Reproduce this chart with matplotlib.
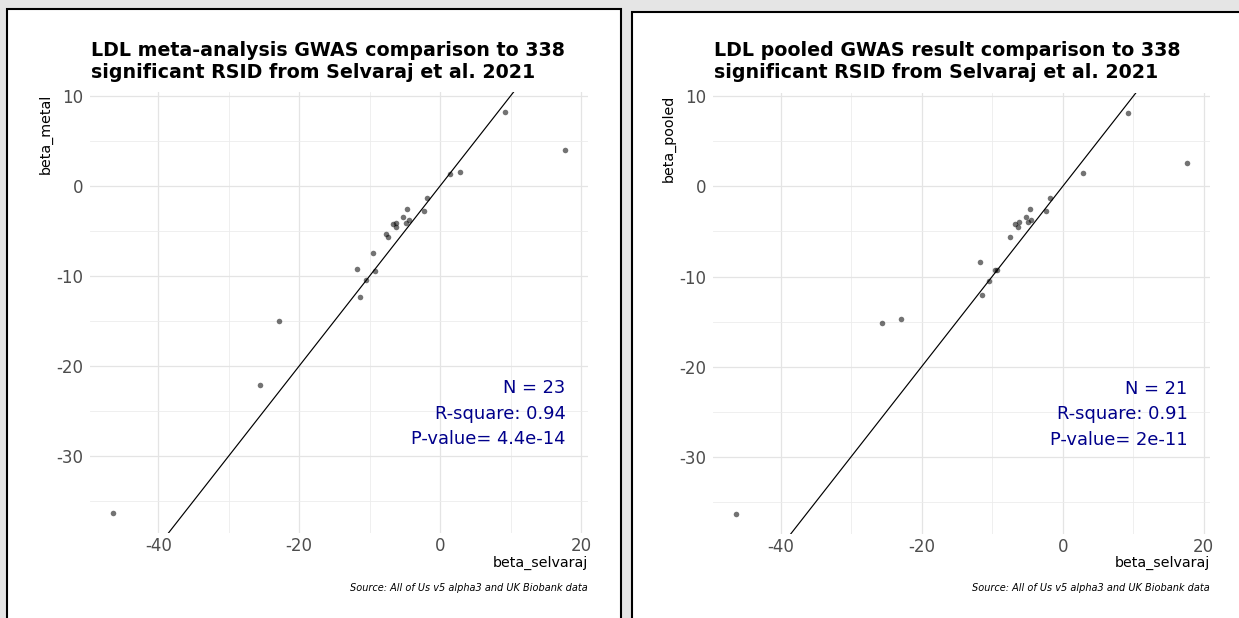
import numpy as np
import matplotlib
matplotlib.use('Agg')
import matplotlib.pyplot as plt
from matplotlib.patches import Rectangle
from matplotlib.ticker import MultipleLocator

plt.rcParams['axes.unicode_minus'] = False

########## Data ##########
beta_selvaraj_metal = [9.27 , 17.78 , 1.42 , 2.84 , -1.80 , -4.63 , -2.27 , -5.20 , -4.40 , -4.78 , -6.71 , -6.19 ,
                       -6.29 , -7.61 , -7.42 , -9.46 , -11.73 , -9.27 , -10.54 , -11.40 , -22.93 , -25.53 , -46.48]
beta_metal = [8.21 , 4.03 , 1.33 , 1.59 , -1.33 , -2.55 , -2.81 , -3.47 , -3.73 , -4.07 , -4.18 , -4.07 ,
              -4.58 , -5.36 , -5.69 , -7.47 , -9.21 , -9.43 , -10.46 , -12.30 , -15.04 , -22.07 , -36.33]

beta_selvaraj_pooled = [9.26 , 17.70 , 2.84 , -1.81 , -4.65 , -2.35 , -5.19 , -4.46 , -4.85 , -6.76 , -6.22 ,
                        -6.32 , -7.44 , -11.75 , -9.60 , -9.30 , -10.50 , -11.46 , -23.00 , -25.60 , -46.40]
beta_pooled = [8.15 , 2.60 , 1.52 , -1.33 , -2.52 , -2.78 , -3.44 , -3.70 , -4.00 , -4.15 , -4.00 ,
               -4.52 , -5.59 , -8.40 , -9.33 , -9.33 , -10.50 , -12.04 , -14.70 , -15.15 , -36.36]

title_metal = 'LDL meta-analysis GWAS comparison to 338\nsignificant RSID from Selvaraj et al. 2021'
title_pooled = 'LDL pooled GWAS result comparison to 338\nsignificant RSID from Selvaraj et al. 2021'
stats_metal = ['N = 23' , 'R-square: 0.94' , 'P-value= 4.4e-14']
stats_pooled = ['N = 21' , 'R-square: 0.91' , 'P-value= 2e-11']
x_name = 'beta_selvaraj'
caption = 'Source: All of Us v5 alpha3 and UK Biobank data'

W , H = 1239 , 618

def fx(px):
    return px / W

def fy(py):
    return 1 - py / H

def drawPanel(fig , box , plotBox , x , y , title , yName , stats):
    # panel background with black frame
    left , top , right = box
    fig.patches.append(Rectangle((fx(left) , -0.1) , fx(right) - fx(left) , fy(top) + 0.1 ,
                                 transform = fig.transFigure , facecolor = 'white' , edgecolor = 'black' ,
                                 linewidth = 1.5 , zorder = -10))

    pl , pt , pr , pb = plotBox
    ax = fig.add_axes([fx(pl) , fy(pb) , fx(pr) - fx(pl) , (pb - pt) / H])
    ax.set_zorder(1)
    ax.patch.set_alpha(0)
    x = np.array(x)
    y = np.array(y)
    xr = x.max() - x.min()
    yr = y.max() - y.min()
    ax.set_xlim(x.min() - 0.05 * xr , x.max() + 0.05 * xr)
    ax.set_ylim(y.min() - 0.05 * yr , y.max() + 0.05 * yr)

    ax.scatter(x , y , s = 16 , color = 'black' , alpha = 0.55 , linewidths = 0 , zorder = 3)
    ax.axline((0 , 0) , slope = 1 , color = 'black' , linewidth = 0.85 , zorder = 2)

    ax.xaxis.set_major_locator(MultipleLocator(20))
    ax.xaxis.set_minor_locator(MultipleLocator(10))
    ax.yaxis.set_major_locator(MultipleLocator(10))
    ax.yaxis.set_minor_locator(MultipleLocator(5))
    ax.grid(which = 'major' , color = '#e4e4e4' , linewidth = 0.9)
    ax.grid(which = 'minor' , color = '#ececec' , linewidth = 0.6)
    ax.set_axisbelow(True)
    ax.tick_params(which = 'both' , length = 0 , labelsize = 12 , labelcolor = '#4d4d4d')
    ax.tick_params(axis = 'x' , pad = 3)
    ax.tick_params(axis = 'y' , pad = 5)
    for s in ax.spines.values():
        s.set_visible(False)

    ax.text(x.max() , -25.3 , '\n'.join(stats) , ha = 'right' , va = 'center' , multialignment = 'right' ,
            fontsize = 12.9 , color = '#00008b' , linespacing = 1.54 , zorder = 4)

    fig.text(fx(pl + 1) , fy(41) , title , ha = 'left' , va = 'top' , fontsize = 13.7 , fontweight = 'bold')
    fig.text(fx(pl - 44) , fy(pt + 2) , yName , ha = 'center' , va = 'top' , rotation = 90 , fontsize = 10.3)
    fig.text(fx(pr) , fy(563) , x_name , ha = 'right' , va = 'center' , fontsize = 10.3)
    fig.text(fx(pr) , fy(588) , caption , ha = 'right' , va = 'center' , fontsize = 7.0 , style = 'italic' ,
             family = ['Liberation Sans Narrow' , 'DejaVu Sans'])
    return ax

def main():
    fig = plt.figure(figsize = [W / 100 , H / 100] , dpi = 100 , facecolor = '#e5e5e5')
    drawPanel(fig , (7 , 9 , 620.5) , (90 , 92 , 588 , 533) , beta_selvaraj_metal , beta_metal ,
              title_metal , 'beta_metal' , stats_metal)
    drawPanel(fig , (632 , 12 , 1260) , (713 , 93 , 1210 , 534) , beta_selvaraj_pooled , beta_pooled ,
              title_pooled , 'beta_pooled' , stats_pooled)
    fig.savefig('out.png' , dpi = 100 , facecolor = fig.get_facecolor())

if __name__ == '__main__':
    main()
